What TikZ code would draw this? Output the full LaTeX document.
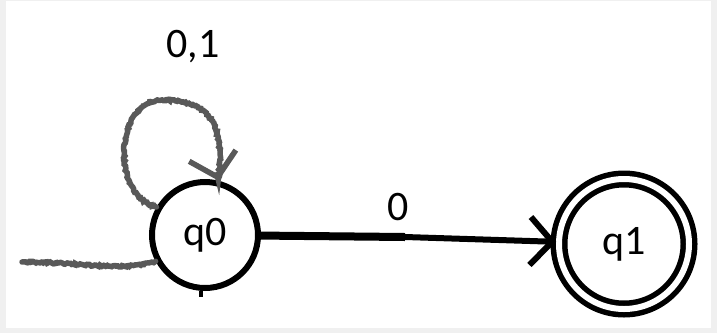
\documentclass[tikz,border=0pt]{standalone}
\usepackage{fontspec}
\setmainfont{Carlito}
\usetikzlibrary{positioning,arrows.meta,decorations.pathmorphing}

\begin{document}
\begin{tikzpicture}[x=1pt, y=-1pt,
  state/.style={circle, draw, line width=6pt, inner sep=0pt,
                minimum size=106pt, font=\fontsize{42}{48}\selectfont},
  accept/.style={state, double, double distance=6pt, line width=5.5pt,
                 minimum size=130pt},
  sketch/.style={draw=black!65, line width=5.5pt, line cap=round,
                 decorate, decoration={random steps, segment length=1.5pt, amplitude=0.8pt}},
  lbl/.style={font=\fontsize{42}{48}\selectfont, inner sep=0pt},
  barb/.style={-{Straight Barb[length=22pt, width=48pt]}}]

 % frame
 \fill[black!6] (0,0) rectangle (717,333);
 \fill[white] (6,1) rectangle (711,328);
 \useasboundingbox (0,0) rectangle (717,333);

 % states
 \node[state]  (q0) at (205,235) {q0};
 \node[accept] (q1) at (624,244) {q1};

 % labels
 \node[lbl] (l01) at (193,47)  {0,1};
 \node[lbl] (l0)  at (398,207) {0};

 \coordinate (start) at (22,262);
 \coordinate (mid)   at (405,237);

 % start line, loop and edge
 \draw[sketch] (start) .. controls (80,262) and (120,272) .. (q0.208);
 \draw[sketch, barb] (q0.150) .. controls (110,195) and (115,100) .. (162,100)
       .. controls (215,100) and (224,130) .. (q0.76);
 \draw[line width=8pt] (q0) -- (mid);
 \draw[line width=6pt, barb] (mid) -- (q1);
 \draw[line width=4pt] (q0.266) -- ++(0,6);
\end{tikzpicture}
\end{document}
